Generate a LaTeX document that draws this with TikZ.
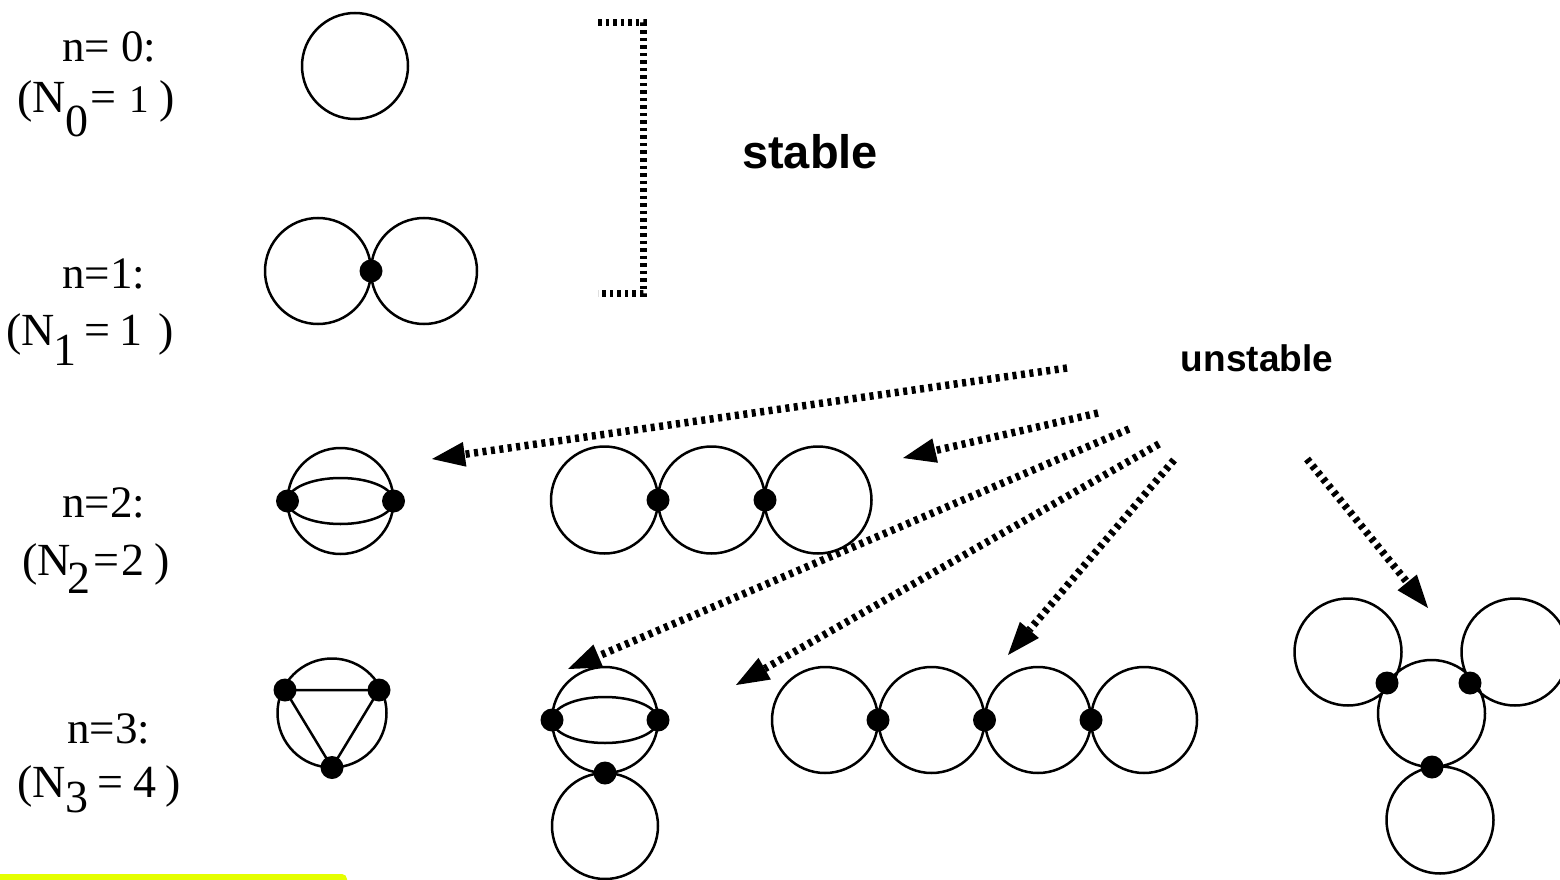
\documentclass[tikz,border=0pt]{standalone}
\usepackage{fontspec}
\setmainfont{Liberation Serif}
\newfontfamily\boldsans{Liberation Sans}
\usetikzlibrary{arrows.meta}
\definecolor{stripyellow}{RGB}{229,255,0}

\begin{document}
\begin{tikzpicture}[x=1pt,y=-1pt,
  loopline/.style={line width=2.5pt},
  vtx/.style={circle,fill=black,draw=none,inner sep=0pt,minimum size=23pt},
  dotarrow/.style={line width=7.5pt,dash pattern=on 4pt off 4.5pt,
    -{Triangle[length=33pt,width=25pt,line width'=0pt]}},
  bracketline/.style={line width=7pt,dash pattern=on 3.5pt off 4pt},
  toplabel/.style={anchor=base west,inner sep=0pt,font=\fontsize{45}{45}\selectfont},
  countlabel/.style={anchor=base west,inner sep=0pt,font=\fontsize{46}{46}\selectfont},
  bigword/.style={inner sep=0pt,font=\boldsans\bfseries\fontsize{47}{47}\selectfont},
  smallword/.style={inner sep=0pt,font=\boldsans\bfseries\fontsize{37}{37}\selectfont}]

\useasboundingbox (0,0) rectangle (1560,880);

% strip along the lower left edge
\fill[stripyellow,rounded corners=5pt] (-10,874) rectangle (347,890);

% ---- row labels ----
\node[toplabel] (l0a) at (62,62) {n= 0:};
\node[countlabel] (l0b) at (17,113) {(N\raisebox{-24pt}{0}\kern2pt=\kern13pt\scalebox{0.85}{1}\kern10pt)};
\node[toplabel] (l1a) at (62,288) {n=1:};
\node[countlabel] (l1b) at (6,345) {(N\kern-1pt\raisebox{-20pt}{1}\kern8pt=\kern9pt1\kern16pt)};
\node[toplabel] (l2a) at (62,517) {n=2:};
\node[countlabel] (l2b) at (22,575) {(N\kern-3pt\raisebox{-18pt}{2}\kern3pt=\kern2pt2\kern10pt)};
\node[toplabel] (l3a) at (67,743) {n=3:};
\node[countlabel] (l3b) at (17,797) {(N\raisebox{-15pt}{3}\kern9pt=\kern10pt4\kern9pt)};

% ---- n = 0 ----
\coordinate (c0) at (355,66);
\draw[loopline] (c0) circle[radius=53pt];

% ---- n = 1 : figure eight ----
\coordinate (c1l) at (318,271);
\coordinate (c1r) at (424,271);
\draw[loopline] (c1l) circle[radius=53pt] (c1r) circle[radius=53pt];
\node[vtx] (v1) at (371,271) {};

% ---- n = 2 : theta ----
\coordinate (t2) at (340.5,501);
\draw[loopline] (t2) circle[radius=53pt];
\draw[loopline] (t2) ellipse[x radius=53pt,y radius=23pt];
\node[vtx] (t2a) at (287.5,501) {};
\node[vtx] (t2b) at (393.5,501) {};

% ---- n = 2 : chain of three ----
\coordinate (k1) at (604.5,500);
\coordinate (k2) at (711.5,500);
\coordinate (k3) at (818,500);
\draw[loopline] (k1) circle[radius=53.5pt] (k2) circle[radius=53.5pt] (k3) circle[radius=53.5pt];
\node[vtx] (k12) at (658,500) {};
\node[vtx] (k23) at (765,500) {};

% ---- n = 3 : triangle in a circle ----
\coordinate (tr) at (332,713);
\draw[loopline] (tr) circle[radius=54.5pt];
\node[vtx] (tra) at (285,690) {};
\node[vtx] (trb) at (379,690) {};
\node[vtx] (trc) at (332,767.5) {};
\draw[loopline] (tra.center) -- (trb.center) -- (trc.center) -- cycle;

% ---- n = 3 : theta with a loop below ----
\coordinate (t3) at (605,720);
\coordinate (t3low) at (605,826);
\draw[loopline] (t3) circle[radius=53pt];
\draw[loopline] (t3) ellipse[x radius=53pt,y radius=23pt];
\draw[loopline] (t3low) circle[radius=53pt];
\node[vtx] (t3a) at (552,720) {};
\node[vtx] (t3b) at (658,720) {};
\node[vtx] (t3c) at (605,773) {};

% ---- n = 3 : chain of four ----
\coordinate (q1) at (825,720);
\coordinate (q2) at (931.5,720);
\coordinate (q3) at (1038,720);
\coordinate (q4) at (1144,720);
\draw[loopline] (q1) circle[radius=53pt] (q2) circle[radius=53pt] (q3) circle[radius=53pt] (q4) circle[radius=53pt];
\node[vtx] (q12) at (878,720) {};
\node[vtx] (q23) at (984.5,720) {};
\node[vtx] (q34) at (1091,720) {};

% ---- n = 3 : three loops on a ring ----
\coordinate (m0) at (1431.5,713.5);
\coordinate (ml) at (1348,652);
\coordinate (mr) at (1515,652);
\coordinate (mb) at (1440,820);
\draw[loopline] (m0) circle[radius=53.5pt] (ml) circle[radius=53.5pt] (mr) circle[radius=53.5pt] (mb) circle[radius=53.5pt];
\node[vtx] (mvl) at (1387,683) {};
\node[vtx] (mvr) at (1470,683) {};
\node[vtx] (mvb) at (1432,767) {};

% ---- stable bracket ----
\coordinate (s1) at (598,23);
\coordinate (s2) at (643,23);
\coordinate (s3) at (643,293);
\coordinate (s4) at (598,293);
\draw[bracketline] (s1) -- (s2) -- (s3) -- (s4);
\node[bigword] (stable) at (810,152) {stable};

% ---- unstable arrows ----
\node[smallword] (unstable) at (1257,358) {unstable};
\coordinate (a1s) at (1067,368);  \coordinate (a1e) at (432,459);
\coordinate (a2s) at (1098,413);  \coordinate (a2e) at (903,458);
\coordinate (a3s) at (1129,429);  \coordinate (a3e) at (568,669);
\coordinate (a4s) at (1159,444);  \coordinate (a4e) at (736,685);
\coordinate (a5s) at (1174,460);  \coordinate (a5e) at (1008,655);
\coordinate (a6s) at (1307,459);  \coordinate (a6e) at (1428,608);
\draw[dotarrow] (a1s) -- (a1e);
\draw[dotarrow] (a2s) -- (a2e);
\draw[dotarrow] (a3s) -- (a3e);
\draw[dotarrow] (a4s) -- (a4e);
\draw[dotarrow] (a5s) -- (a5e);
\draw[dotarrow] (a6s) -- (a6e);
\end{tikzpicture}
\end{document}
